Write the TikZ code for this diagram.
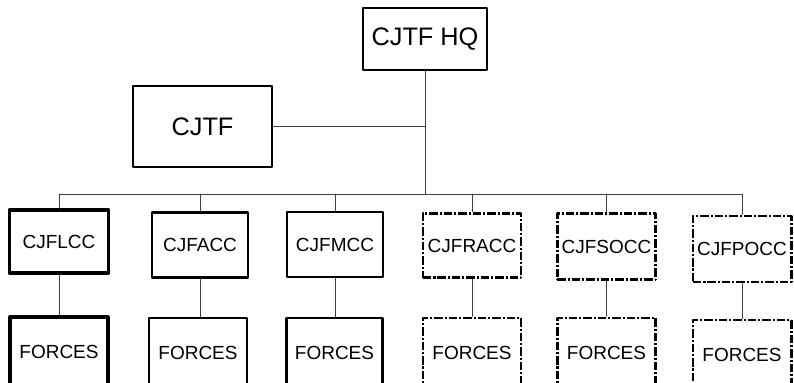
\documentclass[tikz,border=0pt]{standalone}
\usepackage{fontspec}
\setmainfont{Liberation Sans}
\usetikzlibrary{positioning,calc}

\begin{document}
\begin{tikzpicture}[x=0.025cm, y=-0.025cm, line cap=round, line join=round,
    unit/.style={draw, line width=1.7pt, inner sep=0pt, font=\fontsize{13.5}{16}\selectfont,
      minimum width=2.45cm, minimum height=1.62cm},
    planned/.style={unit, line width=2.1pt, line cap=butt, dash pattern=on 6pt off 1.4pt on 1.5pt off 1.4pt},
    forces/.style={minimum height=1.75cm},
    link/.style={line width=0.6pt, black!75}]

\clip (0,0) rectangle (794,382);

\node[draw, line width=1.3pt, minimum width=3.1cm, minimum height=1.55cm, font=\fontsize{18}{20}\selectfont] (hq) at (425,39) {CJTF HQ};
\node[draw, line width=1.8pt, minimum width=3.475cm, minimum height=2.025cm, font=\fontsize{18}{20}\selectfont] (cjtf) at (202.5,126.5) {CJTF};

\node[unit, minimum width=2.475cm, minimum height=1.575cm, line width=2.3pt] (lcc) at (59,241.5) {CJFLCC};
\node[unit, minimum width=2.4cm] (acc) at (200,245) {CJFACC};
\node[unit, minimum width=2.4cm] (mcc) at (335,244.5) {CJFMCC};
\node[planned] (racc) at (472,245.5) {CJFRACC};
\node[planned, minimum height=1.67cm] (socc) at (606.5,246.5) {CJFSOCC};
\node[planned, minimum height=1.65cm] (pocc) at (742,249) {CJFPOCC};

\node[unit, forces, line width=2.3pt] (flcc) at (59,352) {FORCES};
\node[unit, forces] (facc) at (198,353) {FORCES};
\node[unit, forces, minimum width=2.4cm] (fmcc) at (334.5,353) {FORCES};
\node[planned, forces] (fracc) at (472,353) {FORCES};
\node[planned, forces] (fsocc) at (606.5,353) {FORCES};
\node[planned, forces] (fpocc) at (742,355) {FORCES};

% command links
\coordinate (bus) at (425,194);
\draw[link] (hq.south) -- (hq.south |- bus);
\draw[link] (cjtf.east) -- (cjtf.east -| hq.south);
\draw[link] (lcc.north |- bus) -- (pocc.north |- bus);
\foreach \n in {lcc,acc,mcc,racc,socc,pocc} {
  \draw[link] (\n.north) -- (\n.north |- bus);
  \draw[link] (\n.south) -- (\n.south |- f\n.north);
}

\end{tikzpicture}
\end{document}
